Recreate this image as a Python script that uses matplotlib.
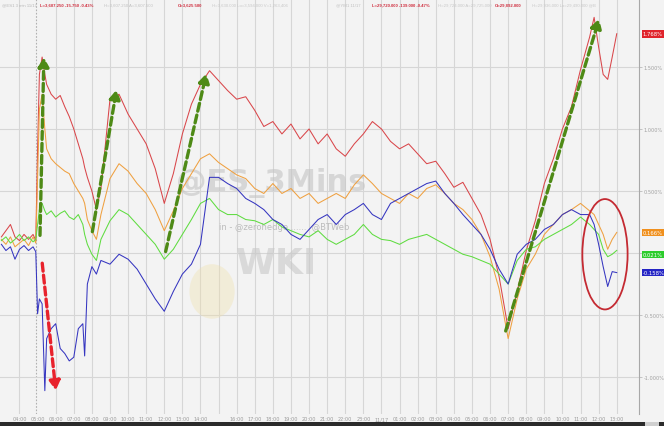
import matplotlib
matplotlib.use("Agg")
import matplotlib.pyplot as plt
import numpy as np
from matplotlib.patches import Ellipse, Rectangle

# time in hours from the first labelled hour, % change for each future
t = np.r_[[-1.0, -0.75, -0.5, -0.25, 0, 0.25, 0.5, 0.75, 0.9, 1.0, 1.1, 1.25, 1.4, 1.5,
           1.75, 2.0, 2.25, 2.5, 2.75, 3.0, 3.25, 3.5, 3.6, 3.75, 4.0, 4.25, 4.5],
          np.arange(5.0, 31.6, 0.5),
          [31.75, 32.0, 32.25, 32.5, 32.75, 33.0]]

red = [0.13, 0.18, 0.23, 0.13, 0.10, 0.15, 0.11, 0.15, 0.10, 0.84, 1.44, 1.58, 1.44, 1.36,
       1.28, 1.24, 1.27, 1.18, 1.10, 1.00, 0.88, 0.76, 0.69, 0.61, 0.50, 0.35, 0.52,
       1.24, 1.28, 1.12, 1.00, 0.88, 0.68, 0.40, 0.64, 0.96, 1.20,
       1.36, 1.47, 1.39, 1.31, 1.24, 1.26, 1.15, 1.02, 1.06, 0.96,
       1.04, 0.92, 1.00, 0.88, 0.96, 0.84, 0.78, 0.88, 0.96, 1.06,
       1.00, 0.90, 0.84, 0.88, 0.80, 0.72, 0.74, 0.64, 0.53, 0.57,
       0.44, 0.31, 0.11, -0.19, -0.61, -0.31, 0.02, 0.26, 0.56, 0.76,
       1.00, 1.18, 1.48, 1.74,
       1.90, 1.66, 1.44, 1.40, 1.58, 1.768]

orange = [0.11, 0.07, 0.13, 0.05, 0.08, 0.11, 0.06, 0.13, 0.08, 0.60, 1.16, 1.28, 1.00, 0.84,
          0.76, 0.72, 0.69, 0.66, 0.64, 0.56, 0.50, 0.44, 0.40, 0.27, 0.18, 0.11, 0.31,
          0.60, 0.72, 0.66, 0.56, 0.48, 0.35, 0.18, 0.34, 0.52, 0.64,
          0.76, 0.80, 0.73, 0.68, 0.63, 0.60, 0.52, 0.48, 0.56, 0.48,
          0.52, 0.44, 0.48, 0.40, 0.44, 0.48, 0.44, 0.55, 0.63, 0.56,
          0.48, 0.44, 0.40, 0.48, 0.44, 0.52, 0.55, 0.48, 0.40, 0.35,
          0.27, 0.15, -0.03, -0.29, -0.69, -0.37, -0.13, -0.01, 0.15, 0.23,
          0.31, 0.35, 0.40, 0.34,
          0.31, 0.23, 0.15, 0.03, 0.11, 0.166]

green = [0.10, 0.13, 0.08, 0.11, 0.15, 0.10, 0.13, 0.09, 0.11, 0.23, 0.35, 0.40, 0.34, 0.31,
         0.34, 0.29, 0.32, 0.34, 0.29, 0.27, 0.31, 0.23, 0.15, 0.07, -0.01, -0.06, 0.11,
         0.26, 0.35, 0.31, 0.23, 0.15, 0.07, -0.05, 0.03, 0.15, 0.27,
         0.40, 0.44, 0.35, 0.31, 0.31, 0.27, 0.26, 0.23, 0.27, 0.21,
         0.18, 0.15, 0.13, 0.18, 0.11, 0.07, 0.11, 0.15, 0.23, 0.15,
         0.11, 0.10, 0.07, 0.11, 0.13, 0.15, 0.11, 0.07, 0.03, -0.01,
         -0.03, -0.06, -0.09, -0.17, -0.25, -0.06, 0.03, 0.05, 0.11, 0.15,
         0.19, 0.23, 0.29, 0.23,
         0.19, 0.15, 0.03, -0.03, -0.01, 0.021]

blue = [0.07, 0.02, 0.05, -0.05, 0.03, 0.06, 0.02, 0.05, 0.01, -0.49, -0.37, -0.41, -1.11, -0.69,
        -0.61, -0.57, -0.77, -0.81, -0.87, -0.84, -0.61, -0.57, -0.83, -0.25, -0.11, -0.17, -0.06,
        -0.09, -0.01, -0.05, -0.13, -0.25, -0.37, -0.47, -0.31, -0.17, -0.09,
        0.07, 0.61, 0.61, 0.56, 0.52, 0.44, 0.40, 0.35, 0.27, 0.23,
        0.15, 0.11, 0.19, 0.27, 0.31, 0.23, 0.31, 0.35, 0.40, 0.31,
        0.27, 0.40, 0.44, 0.48, 0.52, 0.56, 0.58, 0.48, 0.40, 0.31,
        0.23, 0.15, 0.03, -0.13, -0.25, -0.01, 0.07, 0.11, 0.19, 0.23,
        0.31, 0.35, 0.31, 0.31,
        0.23, 0.07, -0.11, -0.27, -0.15, -0.158]

hour_labels = ["04:00", "05:00", "06:00", "07:00", "08:00", "09:00", "10:00", "11:00",
               "12:00", "13:00", "14:00", "", "16:00", "17:00", "18:00", "19:00", "20:00",
               "21:00", "22:00", "23:00", "11/17", "01:00", "02:00", "03:00", "04:00",
               "05:00", "06:00", "07:00", "08:00", "09:00", "10:00", "11:00", "12:00", "13:00"]

series = [(red, "#d9464a", "#e0242c"), (orange, "#efa040", "#f0901e"),
          (green, "#5fdc40", "#2ccc2c"), (blue, "#3535c0", "#2424c4")]

bg = "#f3f3f3"
fig = plt.figure(figsize=(6.64, 4.27), dpi=100, facecolor=bg)
ax = fig.add_axes([0, 12 / 427, 639 / 664, 415 / 427], facecolor=bg)

ax.set_xlim(-1.077, 34.23)
ax.set_ylim(-1.298, 2.048)

ticks = np.arange(len(hour_labels))
ax.set_xticks(ticks)
ax.set_xticklabels(hour_labels, fontsize=3.6, color="#9a9a9a")
ax.tick_params(axis="x", length=0, pad=1.8)
for k in ticks:
    if k == 1:
        ax.axvline(k - 0.1, color="#b0b0b0", lw=0.8, ls=(0, (1.5, 1.5)), zorder=1)
    else:
        ax.axvline(k, color="#d6d6d6", lw=0.8, zorder=1)

yt = [-1.0, -0.5, 0.0, 0.5, 1.0, 1.5]
ax.yaxis.tick_right()
ax.set_yticks(yt)
ax.set_yticklabels(["%.3f%%" % v for v in yt], fontsize=3.6, color="#a0a0a0")
ax.tick_params(axis="y", length=2, width=0.5, color="#b0b0b0", pad=1.5)
for v in yt:
    ax.axhline(v, color="#d6d6d6", lw=0.8, zorder=1)

for s in ["top", "left", "bottom"]:
    ax.spines[s].set_visible(False)
ax.spines["right"].set_color("#a8a8a8")
ax.spines["right"].set_linewidth(0.8)

# watermark
ax.add_patch(Ellipse((10.64, -0.31), 2.5, 0.44, fc="#f0dfa8", ec="none", alpha=0.35, zorder=2))
ax.text(13.9, 0.57, "@ES_3Mins", fontsize=22, color="#c4c4c4", alpha=0.6,
        ha="center", va="center", fontweight="bold", zorder=2)
ax.text(14.6, 0.21, "in - @zerohedge ......  @BTWeb", fontsize=6, color="#bdbdbd",
        ha="center", va="center", zorder=2)
ax.text(14.2, -0.08, "WKI", fontsize=26, color="#c8c8c8", alpha=0.6,
        ha="center", va="center", fontweight="bold", zorder=2)

for vals, lc, _ in series:
    ax.plot(t, vals, color=lc, lw=0.75, zorder=3)

# annotations
arrows_g = [((1.13, 0.12), (1.35, 1.60)), ((4.0, 0.15), (5.39, 1.34)),
            ((8.04, -0.01), (10.36, 1.47)), ((26.82, -0.65), (32.07, 1.91))]
for (x0, y0), (x1, y1) in arrows_g:
    ax.annotate("", xy=(x1, y1), xytext=(x0, y0),
                arrowprops=dict(arrowstyle="-|>,head_length=0.6,head_width=0.35",
                                color="#4e8a16", lw=2.4, linestyle=(0, (2.4, 1.2)),
                                mutation_scale=9), zorder=5)
ax.annotate("", xy=(2.02, -1.13), xytext=(1.24, -0.06),
            arrowprops=dict(arrowstyle="-|>,head_length=0.6,head_width=0.35",
                            color="#e8222c", lw=2.4, linestyle=(0, (2.4, 1.2)),
                            mutation_scale=9), zorder=5)
ax.add_patch(Ellipse((32.35, -0.01), 2.5, 0.89, fill=False, ec="#c42a32", lw=1.3, zorder=6))

# last value boxes
yax = ax.get_yaxis_transform()
for vals, _, bc in series:
    off = -3 if vals is green else 0
    ax.annotate("%.3f%%" % vals[-1], xy=(1.006, vals[-1]), xycoords=yax,
                xytext=(0, off), textcoords="offset points",
                fontsize=3.8, color="white", va="center", ha="left", annotation_clip=False,
                bbox=dict(boxstyle="square,pad=0.25", fc=bc, ec="none"), zorder=7)

# header
hdr = [(2, "@ES1 3 min 11/17", "#b8b8b8"), (40, "L=3,607.250 -15.750 -0.43%", "#d03040"),
       (104, "H=3,607.250 A=3,607.500", "#c0c0c0"), (178, "O=3,625.500", "#d03040"),
       (212, "H=3,630.000 Lo=3,594.000 V=1,263,406", "#c8c8c8"),
       (336, "@YM1 11/17", "#c0c0c0"), (372, "L=29,720.000 -139.000 -0.47%", "#d03040"),
       (438, "H=29,724.000 A=29,725.000", "#c8c8c8"), (495, "O=29,892.000", "#d03040"),
       (532, "H=29,936.000 Lo=29,490.000 @B", "#c8c8c8")]
for x, s, c in hdr:
    fig.text(x / 664, 0.988, s, fontsize=3.1, color=c, va="center", ha="left",
             family="Liberation Sans",
             fontweight="bold" if c == "#d03040" else "normal")

# bottom bar
fig.patches.append(Rectangle((0, 0), 1, 4 / 427, transform=fig.transFigure,
                             fc="#2b2b2b", ec="none", zorder=0))
fig.patches.append(Rectangle((645 / 664, 0), 14 / 664, 4 / 427, transform=fig.transFigure,
                             fc="#cfcfcf", ec="none", zorder=1))

fig.savefig("out.png", dpi=100, facecolor=bg)
